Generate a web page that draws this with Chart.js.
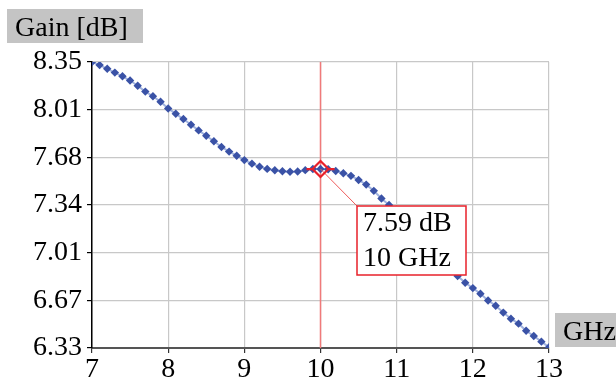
<!DOCTYPE html>
<html>
<head>
<meta charset="utf-8">
<script src="https://cdn.jsdelivr.net/npm/chart.js@4"></script>
<style>
body{margin:0;background:#fff}
canvas{display:block}
</style>
</head>
<body>
<canvas id="gain" width="616" height="383"></canvas>
<script>
const freqs=[7.0,7.1,7.2,7.3,7.4,7.5,7.6,7.7,7.8,7.9,
8.0,8.1,8.2,8.3,8.4,8.5,8.6,8.7,8.8,8.9,
9.0,9.1,9.2,9.3,9.4,9.5,9.6,9.7,9.8,9.9,
10.0,10.1,10.2,10.3,10.4,10.5,10.6,10.7,10.8,10.9,
11.0,11.1,11.2,11.3,11.4,11.5,11.6,11.7,11.8,11.9,
12.0,12.1,12.2,12.3,12.4,12.5,12.6,12.7,12.8,12.9,13.0]

const gains=[8.350,8.328,8.302,8.275,8.249,8.219,8.182,8.141,8.108,8.069,
8.022,7.984,7.947,7.907,7.867,7.829,7.790,7.750,7.717,7.688,
7.657,7.632,7.610,7.595,7.585,7.578,7.575,7.577,7.586,7.594,
7.594,7.592,7.580,7.564,7.546,7.517,7.484,7.440,7.386,7.340,
7.290,7.230,7.170,7.110,7.050,6.990,6.940,6.890,6.839,6.791,
6.753,6.713,6.666,6.628,6.580,6.537,6.502,6.452,6.415,6.375,6.335]

const yTickLabels=["6.33","6.67","7.01","7.34","7.68","8.01","8.35"]
const xTickLabels=["7","8","9","10","11","12","13"]
const markerFreq=10

const yMin=6.33
const yMax=8.35
const serif="'Liberation Serif','Times New Roman',serif"

const points=freqs.map((f,i)=>({x:f,y:gains[i]}))

const cursor={
id:"cursor",
beforeDatasetsDraw(chart){
const c=chart.ctx,a=chart.chartArea
const px=chart.scales.x.getPixelForValue(markerFreq)
c.save()
c.strokeStyle="#f07a7a"
c.lineWidth=1.5
c.beginPath()
c.moveTo(px,a.top)
c.lineTo(px,a.bottom)
c.stroke()
c.restore()
},
afterDraw(chart){
const c=chart.ctx
const i=freqs.indexOf(markerFreq)
const px=chart.scales.x.getPixelForValue(freqs[i])
const py=chart.scales.y.getPixelForValue(gains[i])

c.save()
// leader
c.strokeStyle="#ee5a5a"
c.lineWidth=1
c.beginPath()
c.moveTo(px,py)
c.lineTo(357,206)
c.stroke()

// marker
c.strokeStyle="#e8202a"
c.lineWidth=2.2
c.beginPath()
c.moveTo(px,py-8);c.lineTo(px+8,py);c.lineTo(px,py+8);c.lineTo(px-8,py);c.closePath()
c.stroke()
c.beginPath()
c.moveTo(px-14,py);c.lineTo(px-8,py)
c.moveTo(px+8,py);c.lineTo(px+14,py)
c.stroke()

// value box
c.fillStyle="#fff"
c.fillRect(357,206,109,69)
c.strokeStyle="#e8202a"
c.lineWidth=1.5
c.strokeRect(357,206,109,69)
c.fillStyle="#000"
c.font="28px "+serif
c.textBaseline="alphabetic"
c.textAlign="left"
c.fillText(gains[i].toFixed(2)+" dB",363,231)
c.fillText(markerFreq+" GHz",363,266)

// axis titles
c.fillStyle="#c4c4c4"
c.fillRect(7,9,136,34)
c.fillRect(555,313,61,34)
c.fillStyle="#000"
c.fillText("Gain [dB]",15,36)
c.fillText("GHz",563,340)
c.restore()
}
}

new Chart(document.getElementById("gain"),{
type:"line",
data:{
datasets:[{
data:points,
borderColor:"rgba(120,145,210,0.7)",
borderWidth:2,
pointStyle:"rectRot",
pointRadius:4.2,
pointBorderWidth:0,
pointBackgroundColor:"#3a52a6",
tension:0
}]
},
options:{
responsive:false,
animation:false,
layout:{padding:{top:62,right:67,left:0,bottom:0}},
plugins:{legend:{display:false},tooltip:{enabled:false}},
scales:{
x:{
type:"linear",
min:7,max:13,
afterFit(s){s.height=35},
afterBuildTicks(s){s.ticks=xTickLabels.map(v=>({value:Number(v)}))},
ticks:{
autoSkip:false,maxRotation:0,padding:0,color:"#000",
font:{family:serif,size:28},
callback:(v,i)=>xTickLabels[i]
},
grid:{color:"#c8c8c8",lineWidth:1.2,tickLength:5,tickColor:"#333"},
border:{color:"#555",width:2}
},
y:{
min:yMin,max:yMax,
afterFit(s){s.width=92},
afterBuildTicks(s){s.ticks=yTickLabels.map((v,k)=>({value:yMin+k*(yMax-yMin)/(yTickLabels.length-1)}))},
ticks:{
autoSkip:false,padding:5,color:"#000",
font:{family:serif,size:28},
callback:(v,i)=>yTickLabels[i]
},
grid:{color:"#c8c8c8",lineWidth:1.2,tickLength:5,tickColor:"#000"},
border:{color:"#000",width:1.5}
}
}
},
plugins:[cursor]
})
</script>
</body>
</html>
